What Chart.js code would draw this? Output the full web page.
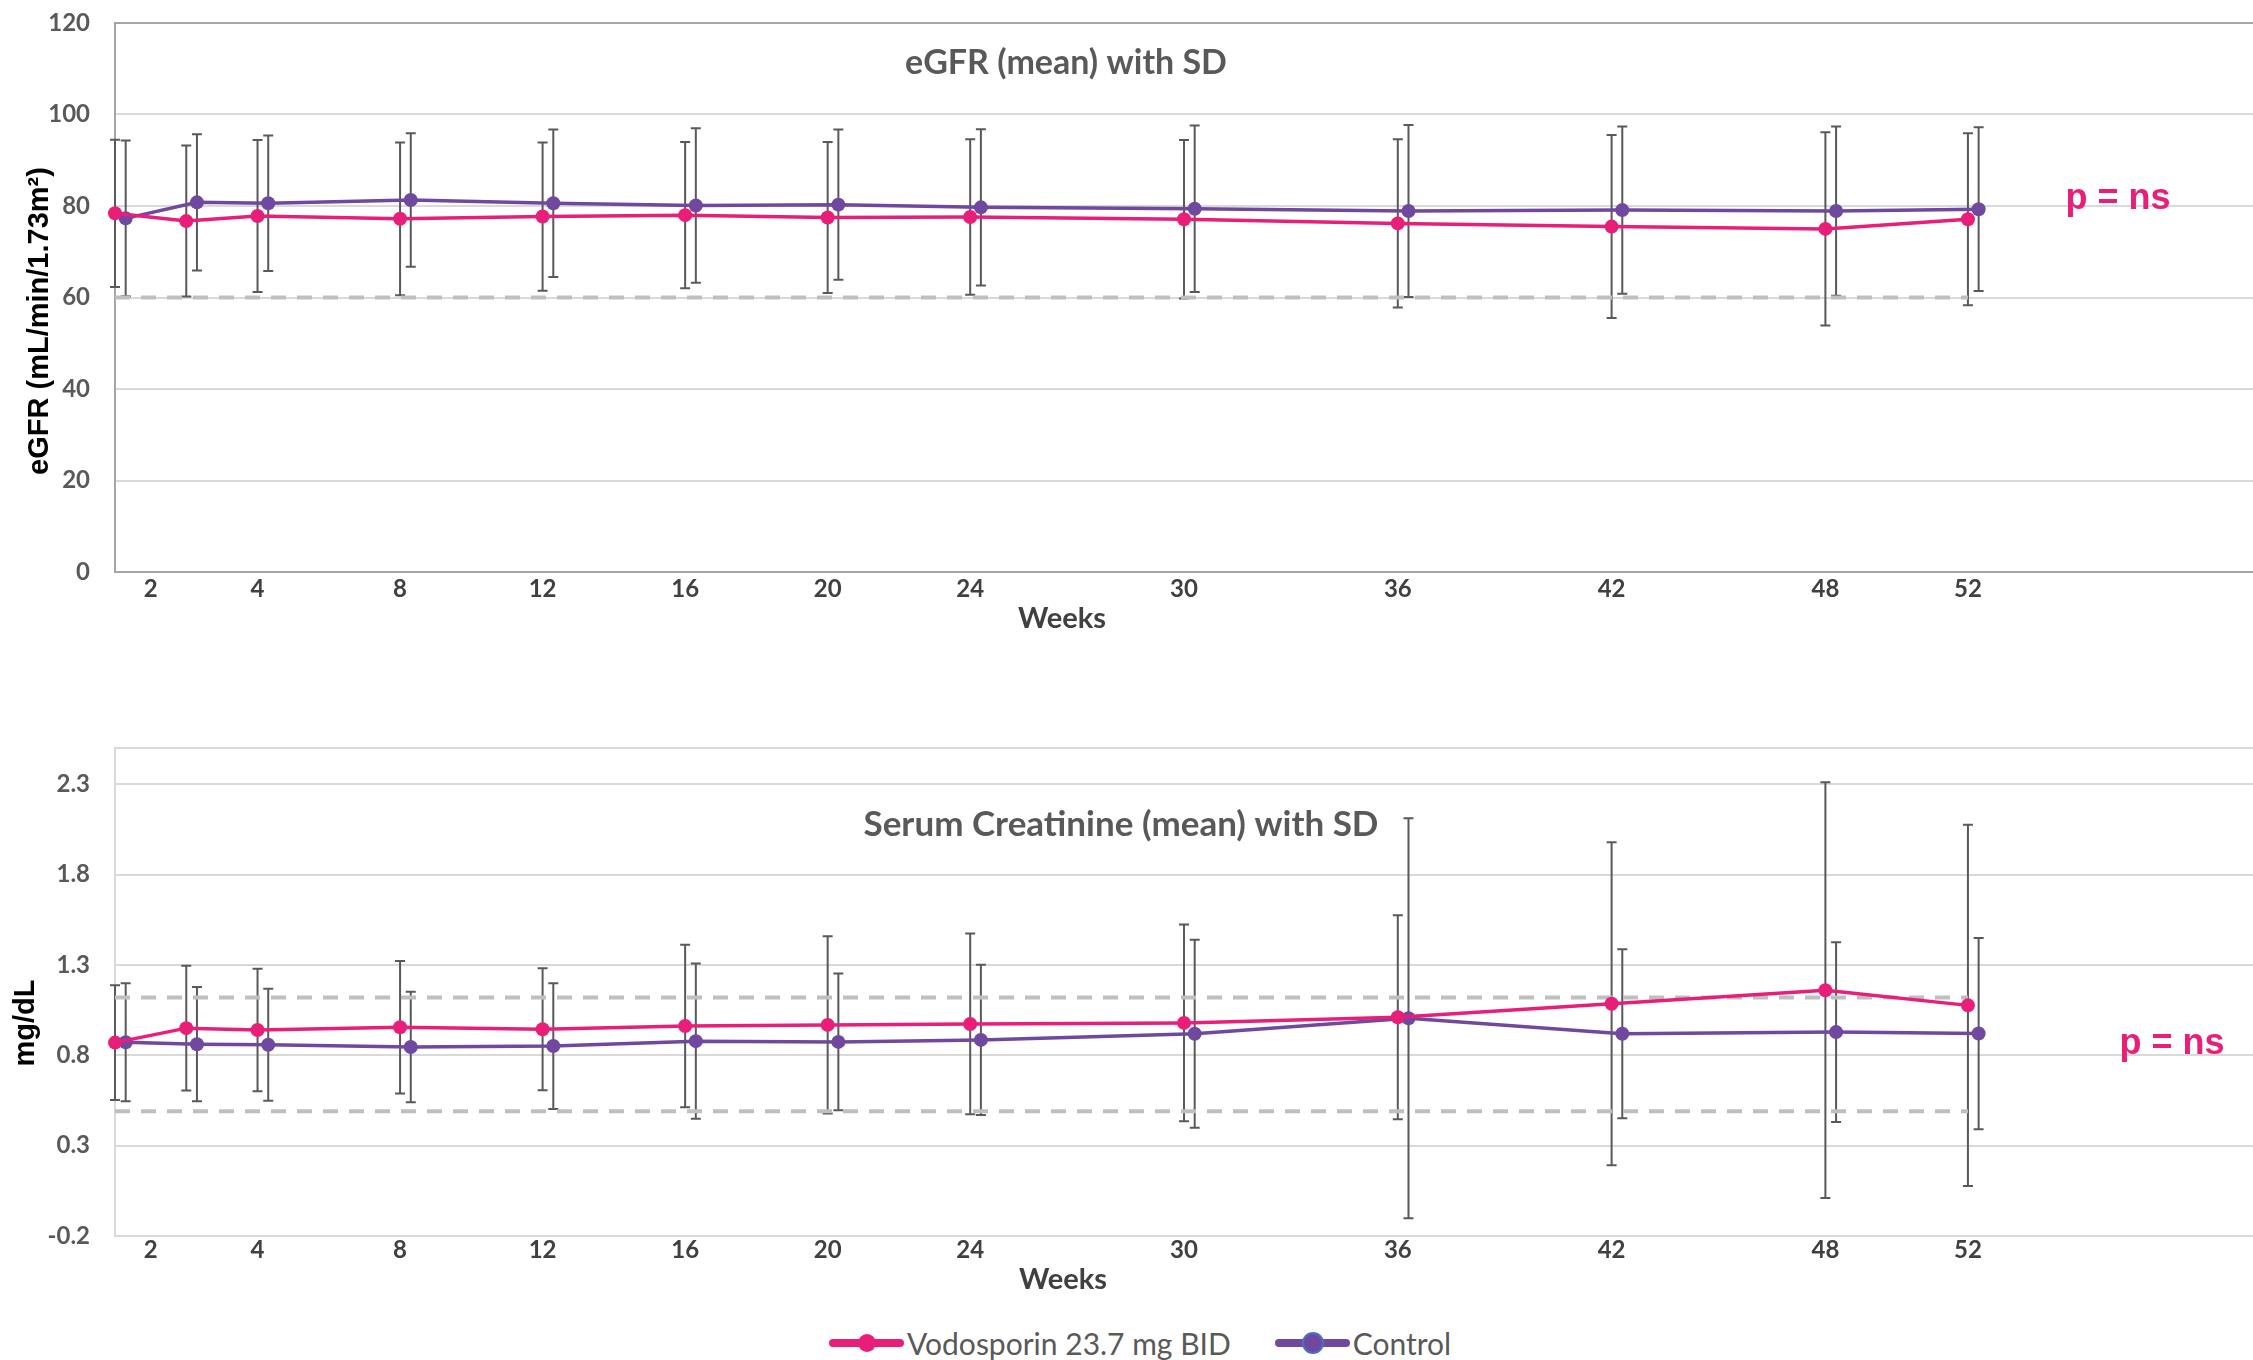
<!DOCTYPE html>
<html>
<head>
<meta charset="utf-8">
<title>eGFR and Serum Creatinine with SD</title>
<script src="https://cdn.jsdelivr.net/npm/chart.js@4.4.1/dist/chart.umd.min.js"></script>
<style>
  html, body { margin: 0; padding: 0; background: #fff; }
  body { width: 2253px; height: 1360px; position: relative; overflow: hidden; }
  #egfr { position: absolute; left: 0; top: 0; }
  #creat { position: absolute; left: 0; top: 700px; }
  #legend {
    position: absolute; left: 829px; top: 1323px; height: 40px;
    display: flex; align-items: center;
    color: #595959; font: 30px Lato, sans-serif;
  }
  .item { display: flex; align-items: center; margin-right: 44px; }
  .mark { position: relative; width: 75px; height: 8px; border-radius: 4px; margin-right: 3px; }
  .dot { position: absolute; left: 29px; top: -5px; width: 18px; height: 18px; border-radius: 50%; }
</style>
</head>
<body>
<canvas id="egfr" width="2253" height="650"></canvas>
<canvas id="creat" width="2253" height="600"></canvas>
<div id="legend"></div>
<script>
// visit weeks (0 = baseline)
const weeks = [0, 2, 4, 8, 12, 16, 20, 24, 30, 36, 42, 48, 52];
const ctrlShift = 0.3; // control points sit slightly right of each visit

// x tick positions / labels as printed on the original axis
const xTickPos = [1, 4, 8, 12, 16, 20, 24, 30, 36, 42, 48, 52];
const xTickLabels = ['2', '4', '8', '12', '16', '20', '24', '30', '36', '42', '48', '52'];

// eGFR, mL/min/1.73m2 (mean and SD)
const egfrVodo   = [78.4, 76.7, 77.8, 77.2, 77.7, 78.0, 77.5, 77.6, 77.1, 76.2, 75.5, 75.0, 77.1];
const egfrVodoSD = [16.1, 16.5, 16.6, 16.7, 16.2, 16.0, 16.5, 17.0, 17.3, 18.4, 20.0, 21.1, 18.8];
const egfrCtrl   = [77.3, 80.8, 80.6, 81.3, 80.6, 80.1, 80.3, 79.7, 79.4, 78.9, 79.1, 78.9, 79.3];
const egfrCtrlSD = [17.0, 14.9, 14.8, 14.6, 16.1, 16.9, 16.4, 17.1, 18.2, 18.8, 18.3, 18.5, 17.9];
const egfrTicks = [0, 20, 40, 60, 80, 100, 120];
const egfrRef = [60];

// serum creatinine, mg/dL (mean and SD)
const creatVodo   = [0.870, 0.950, 0.940, 0.955, 0.944, 0.962, 0.968, 0.973, 0.979, 1.010, 1.085, 1.160, 1.076];
const creatVodoSD = [0.317, 0.345, 0.339, 0.366, 0.338, 0.450, 0.490, 0.500, 0.544, 0.564, 0.893, 1.150, 1.000];
const creatCtrl   = [0.872, 0.861, 0.858, 0.846, 0.851, 0.878, 0.874, 0.885, 0.919, 1.005, 0.919, 0.928, 0.920];
const creatCtrlSD = [0.327, 0.316, 0.310, 0.306, 0.348, 0.429, 0.378, 0.416, 0.520, 1.107, 0.468, 0.497, 0.529];
const creatTicks = [-0.2, 0.3, 0.8, 1.3, 1.8, 2.3];
const creatRef = [0.49, 1.12];

const refWeeks = [0, 52];
const seriesNames = ['Vodosporin 23.7 mg BID', 'Control'];

const PINK = '#E91E79';
const PURPLE = '#7048A0';
const GRID = '#D9D9D9';

const errorBars = {
    id: 'errorBars',
    beforeDatasetsDraw(chart) {
        const ctx = chart.ctx;
        const y = chart.scales.y;
        ctx.save();
        ctx.strokeStyle = '#595959';
        ctx.lineWidth = 2;
        chart.data.datasets.forEach((ds, i) => {
            if (!ds.sd) return;
            chart.getDatasetMeta(i).data.forEach((pt, j) => {
                const v = ds.data[j].y;
                const top = y.getPixelForValue(v + ds.sd[j]);
                const bot = y.getPixelForValue(v - ds.sd[j]);
                ctx.beginPath();
                ctx.moveTo(pt.x, top); ctx.lineTo(pt.x, bot);
                ctx.moveTo(pt.x - 5, top); ctx.lineTo(pt.x + 5, top);
                ctx.moveTo(pt.x - 5, bot); ctx.lineTo(pt.x + 5, bot);
                ctx.stroke();
            });
        });
        ctx.restore();
    }
};

// free text: titles, axis titles, p-values
const chartText = {
    id: 'chartText',
    afterDraw(chart, args, opts) {
        const ctx = chart.ctx;
        (opts.items || []).forEach(t => {
            ctx.save();
            ctx.font = t.font;
            ctx.fillStyle = t.color;
            ctx.textAlign = 'center';
            ctx.textBaseline = t.baseline || 'alphabetic';
            ctx.translate(t.x, t.y);
            if (t.rotate) ctx.rotate(t.rotate);
            ctx.fillText(t.text, 0, 0);
            ctx.restore();
        });
    }
};

function series(label, color, means, sds, shift, order) {
    return {
        label: label,
        data: weeks.map((w, i) => ({x: w + shift, y: means[i]})),
        sd: sds,
        borderColor: color,
        backgroundColor: color,
        borderWidth: 3.5,
        pointRadius: 7,
        pointBorderWidth: 0,
        pointBackgroundColor: color,
        tension: 0,
        clip: false,
        order: order
    };
}

function refLine(v) {
    return {
        label: 'ref',
        data: refWeeks.map(w => ({x: w, y: v})),
        borderColor: '#BFBFBF',
        borderWidth: 4,
        borderDash: [15, 11],
        pointRadius: 0,
        order: 5
    };
}

function makeChart(id, c) {
    const tickFont = {family: 'Lato', weight: 'bold', size: 24};
    return new Chart(document.getElementById(id), {
        type: 'line',
        data: {
            datasets: [
                series(seriesNames[0], PINK, c.vodo, c.vodoSD, 0, 1),
                series(seriesNames[1], PURPLE, c.ctrl, c.ctrlSD, ctrlShift, 2)
            ].concat(c.refs.map(refLine))
        },
        options: {
            responsive: false,
            animation: false,
            layout: {autoPadding: false, padding: {top: c.top, right: 0, left: 0, bottom: 0}},
            plugins: {
                legend: {display: false},
                tooltip: {enabled: false},
                chartText: {items: c.texts}
            },
            scales: {
                x: {
                    type: 'linear',
                    min: 0,
                    max: 60,
                    afterBuildTicks: s => { s.ticks = xTickPos.map(v => ({value: v})); },
                    afterFit: s => { s.height = c.xHeight; s.paddingLeft = 0; s.paddingRight = 0; },
                    grid: {display: false, drawTicks: false},
                    border: {color: c.axisColor, width: 2},
                    ticks: {
                        autoSkip: false,
                        maxRotation: 0,
                        padding: c.xPad,
                        color: '#404040',
                        font: tickFont,
                        callback: (v, i) => xTickLabels[i]
                    }
                },
                y: {
                    type: 'linear',
                    min: c.min,
                    max: c.max,
                    afterBuildTicks: s => {
                        const t = c.ticks.slice();
                        if (t[t.length - 1] !== c.max) t.push(c.max);
                        s.ticks = t.map(v => ({value: v}));
                    },
                    afterFit: s => { s.width = 115; s.paddingTop = 0; s.paddingBottom = 0; },
                    grid: {
                        color: ctx => (ctx.tick && ctx.tick.value === c.max) ? c.topColor : GRID,
                        lineWidth: 2,
                        drawTicks: false
                    },
                    border: {color: c.axisColor, width: 2},
                    ticks: {
                        padding: 25,
                        color: '#595959',
                        font: tickFont,
                        callback: v => c.ticks.includes(v) ? c.fmt(v) : ''
                    }
                }
            }
        },
        plugins: [errorBars, chartText]
    });
}

makeChart('egfr', {
    vodo: egfrVodo, vodoSD: egfrVodoSD, ctrl: egfrCtrl, ctrlSD: egfrCtrlSD,
    refs: egfrRef, ticks: egfrTicks, min: 0, max: 120,
    fmt: v => String(v),
    top: 23, xHeight: 78, xPad: 3,
    axisColor: '#A6A6A6', topColor: '#A6A6A6',
    texts: [
        {text: 'eGFR (mean) with SD', x: 1066, y: 74, font: 'bold 34px Lato', color: '#595959'},
        {text: 'Weeks', x: 1062, y: 628, font: 'bold 29px Lato', color: '#404040'},
        {text: 'p = ns', x: 2118, y: 209, font: 'bold 36px "Liberation Sans"', color: PINK},
        {text: 'eGFR (mL/min/1.73m\u00B2)', x: 40, y: 321, rotate: -Math.PI / 2, baseline: 'middle',
         font: 'bold 29px "Liberation Sans"', color: '#000000'}
    ]
});

makeChart('creat', {
    vodo: creatVodo, vodoSD: creatVodoSD, ctrl: creatCtrl, ctrlSD: creatCtrlSD,
    refs: creatRef, ticks: creatTicks, min: -0.2, max: 2.5,
    fmt: v => v.toFixed(1),
    top: 48, xHeight: 64, xPad: 0,
    axisColor: GRID, topColor: GRID,
    texts: [
        {text: 'Serum Creatinine (mean) with SD', x: 1121, y: 136, font: 'bold 35px Lato', color: '#595959'},
        {text: 'Weeks', x: 1063, y: 589, font: 'bold 29px Lato', color: '#404040'},
        {text: 'p = ns', x: 2172, y: 354, font: 'bold 36px "Liberation Sans"', color: PINK},
        {text: 'mg/dL', x: 26, y: 323, rotate: -Math.PI / 2, baseline: 'middle',
         font: 'bold 29px "Liberation Sans"', color: '#000000'}
    ]
});

// legend: line with a dot, as in the original
const legend = document.getElementById('legend');
[[seriesNames[0], PINK, 'none'], [seriesNames[1], PURPLE, '0 0 0 2px #4472C4']].forEach(([name, color, ring]) => {
    const item = document.createElement('div');
    item.className = 'item';
    const mark = document.createElement('span');
    mark.className = 'mark';
    mark.style.background = color;
    const dot = document.createElement('span');
    dot.className = 'dot';
    dot.style.background = color;
    dot.style.boxShadow = ring;
    mark.appendChild(dot);
    const label = document.createElement('span');
    label.textContent = name;
    item.appendChild(mark);
    item.appendChild(label);
    legend.appendChild(item);
});
</script>
</body>
</html>
